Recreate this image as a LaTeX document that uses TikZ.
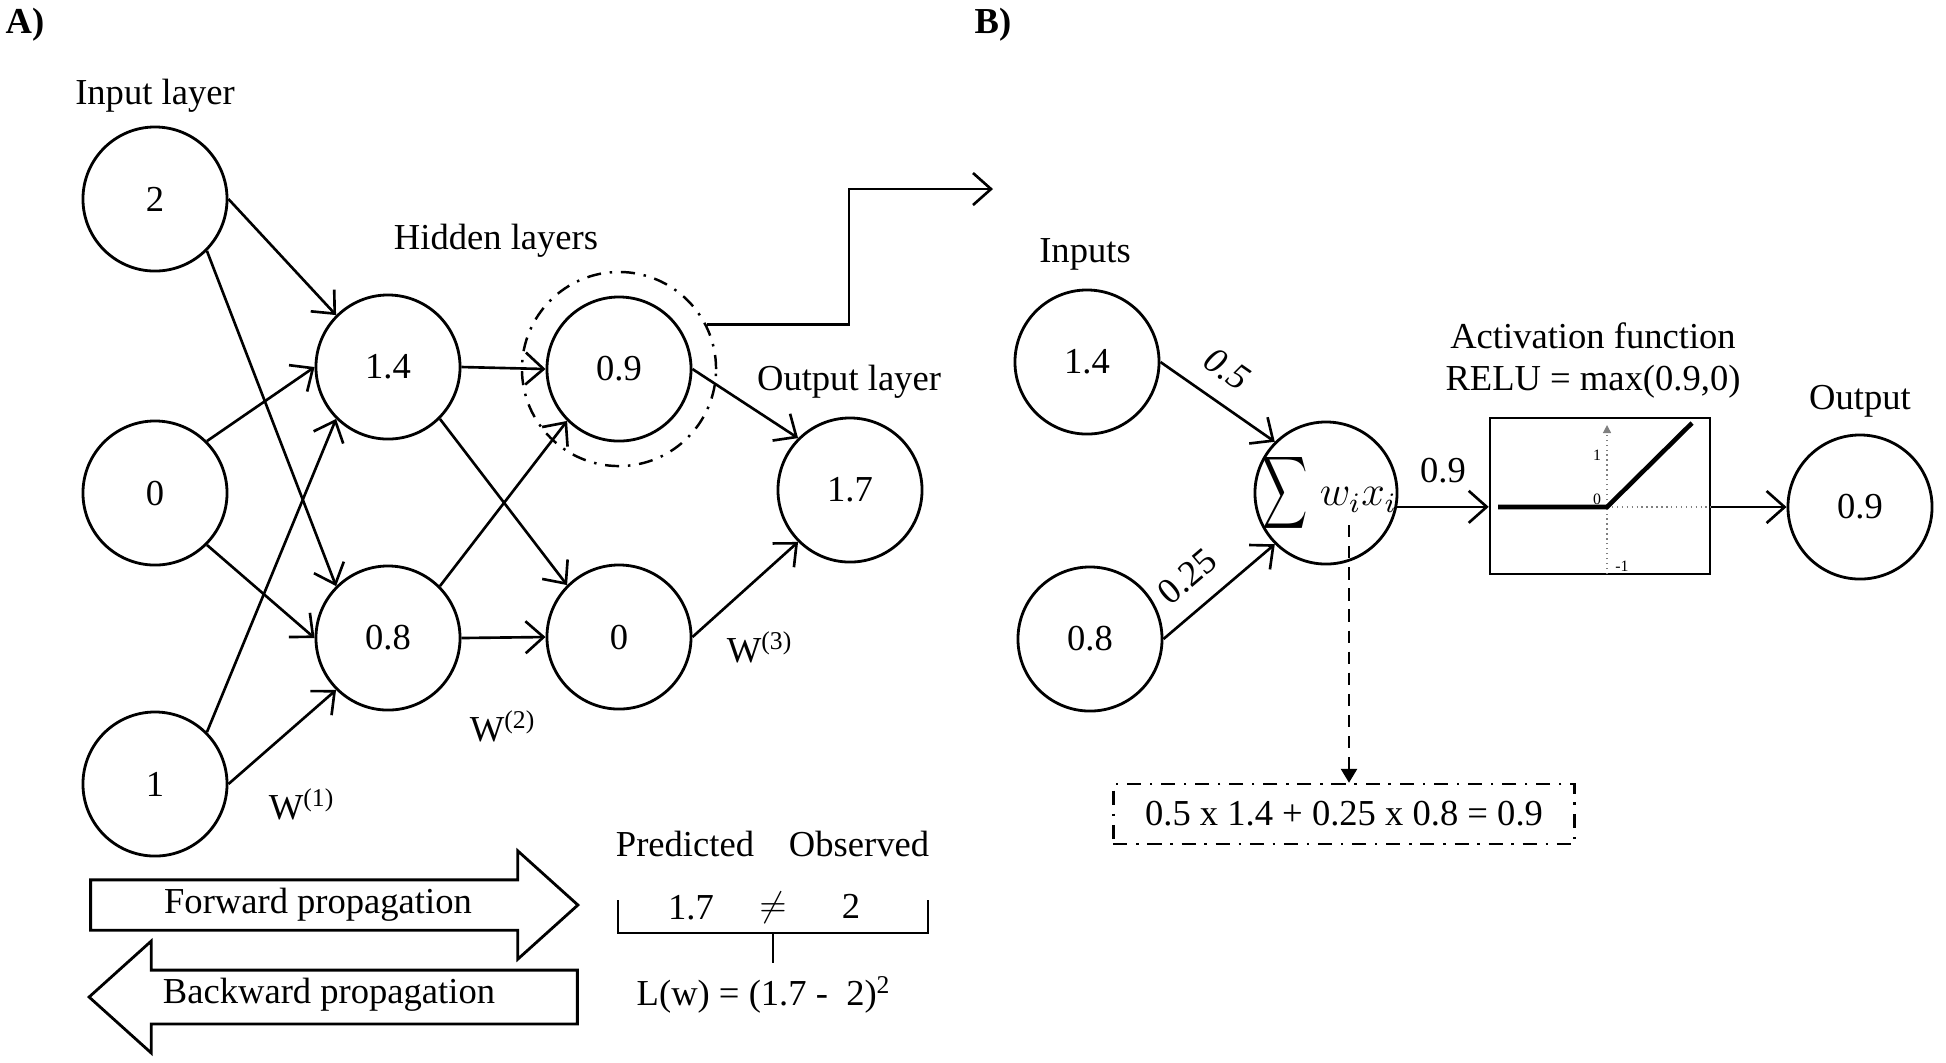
\documentclass[tikz,border=0pt]{standalone}
\usepackage{exscale}
\usepackage{fontspec}
\setmainfont{Liberation Serif}
\usetikzlibrary{arrows.meta,shapes.arrows}

\tikzset{
  neuron/.style={draw, circle, line width=0.8pt, minimum size=1.44cm, inner sep=0pt},
  wire/.style={line width=0.75pt, -{Straight Barb[length=1.8mm,width=3.2mm]}},
  dashdot/.style={line width=0.7pt, dash pattern=on 4pt off 2.5pt on 0.7pt off 2.5pt},
  bigarrow/.style={draw, single arrow, line width=0.8pt, single arrow head extend=0.29cm,
    single arrow tip angle=84, text height=7.2pt, text depth=2.3pt, inner ysep=2pt, anchor=tip},
  tiny/.style={font=\fontsize{4.5}{5}\selectfont, inner sep=0pt},
}

\begin{document}
\begin{tikzpicture}[x=0.01cm,y=-0.01cm,font=\fontsize{10.4}{12}\selectfont]
\useasboundingbox (0,0) rectangle (1946,1062);

% A) the network
\node[font=\fontsize{10.4}{12}\selectfont\bfseries] (tagA) at (25,25) {A)};
\node (lblin) at (155,96) {Input layer};
\node (lblhid) at (496,241) {Hidden layers};
\node (lblout) at (849,382) {Output layer};

\node[neuron] (in2) at (155,199) {2};
\node[neuron] (in0) at (155,493) {0};
\node[neuron] (in1) at (155,784) {1};
\node[neuron] (h14) at (388,367) {1.4};
\node[neuron] (h08) at (388,638) {0.8};
\node[neuron] (h09) at (619,369) {0.9};
\node[neuron] (h00) at (619,637) {0};
\node[neuron] (o17) at (850,490) {1.7};
\node[draw, circle, dashdot, minimum size=1.94cm] (focus) at (h09) {};

\foreach \a/\sa/\b/\tb in {in2/0/h14/135, in2/-45/h08/135, in0/45/h14/180,
    in0/-45/h08/180, in1/45/h14/225, in1/0/h08/225,
    h14/0/h09/180, h14/-45/h00/135, h08/45/h09/225, h08/0/h00/180,
    h09/0/o17/135, h00/0/o17/225}
  \draw[wire] (\a.\sa) -- (\b.\tb);

\node (w1) at (302,804) {W\textsuperscript{(1)}};
\node (w2) at (503,726) {W\textsuperscript{(2)}};
\node (w3) at (760,647) {W\textsuperscript{(3)}};

% zoom into the neuron
\coordinate (kink) at (849,189);
\coordinate (zoomend) at (993,189);
\draw[wire] (focus.27) -| (kink) -- (zoomend);

% propagation arrows
\node[bigarrow, minimum height=4.87cm] (fwd) at (580,905) {};
\node[bigarrow, minimum height=4.88cm, shape border rotate=180, inner ysep=2.5pt] (bwd) at (87,997) {};
\node (fwdtxt) at (318,905) {Forward propagation};
\node (bwdtxt) at (329,995) {Backward propagation};

% loss
\node (pred) at (685,844) {Predicted};
\node (obs) at (859,844) {Observed};
\node (vpred) at (691,908) {1.7};
\node (neq) at (773,908) {$\neq$};
\node (vobs) at (851,906) {2};
\draw[line width=0.5pt] (618,900) -- (618,933) -- (928,933) -- (928,900);
\draw[line width=0.5pt] (773,933) -- (773,963);
\node (loss) at (764,995) {L(w) = (1.7 -\ \ 2)\textsuperscript{2}};

% B) one neuron
\node[font=\fontsize{10.4}{12}\selectfont\bfseries] (tagB) at (993,25) {B)};
\node (lblinp) at (1085,254) {Inputs};
\node[neuron] (b14) at (1087,362) {1.4};
\node[neuron] (b08) at (1090,639) {0.8};
\node[neuron, minimum size=1.42cm,
  label={[inner sep=0pt, xshift=1pt]center:{\fontsize{14}{16}\selectfont\scalebox{0.62}[1]{$\displaystyle\sum$}}\hspace{3.5pt}{\fontsize{12}{14}\selectfont$w_ix_i$}}]
  (sum) at (1326,493) {};
\draw[wire] (b14.east) -- node[sloped, above=2pt, pos=0.42] {\itshape 0.5} (sum.135);
\draw[wire] (b08.east) -- node[sloped, above=2pt, pos=0.4] {0.25} (sum.225);

\node (lblact) at (1593,336) {Activation function};
\node (lblrelu) at (1593,382) {RELU = max(0.9,0)};
\node[draw, line width=0.7pt, minimum width=2.2cm, minimum height=1.56cm] (relu) at (1600,496) {};
\draw[gray, densely dotted, line width=0.4pt, -{Triangle[length=0.8mm,width=0.8mm]}] (1607,574) -- (1607,425);
\draw[gray, densely dotted, line width=0.4pt] (1607,507) -- (relu.east |- 1607,507);
\draw[line width=1.3pt] (1498,507) -- (1607,507) -- (1692,423);
\node[tiny] (ty1) at (1597,455) {1};
\node[tiny] (ty0) at (1597,499) {0};
\node[tiny] (tym) at (1622,566) {-1};

\draw[wire] (sum.-11) -- node[above=3pt] {0.9} (sum.-11 -| relu.west);
\node (lbloutp) at (1860,401) {Output};
\node[neuron] (bout) at (1860,507) {0.9};
\draw[wire] (bout -| relu.east) -- (bout);

% weighted sum worked out
\node[draw, dashdot, minimum width=4.61cm, minimum height=0.6cm] (calc) at (1344,814)
  {0.5 x 1.4 + 0.25 x 0.8 = 0.9};
\coordinate (tap) at (1349,525);
\draw[line width=0.8pt, dash pattern=on 3.5pt off 2.5pt, -{Triangle[length=1.4mm,width=1.6mm]}]
  (tap) -- (tap |- calc.north);

\end{tikzpicture}
\end{document}
